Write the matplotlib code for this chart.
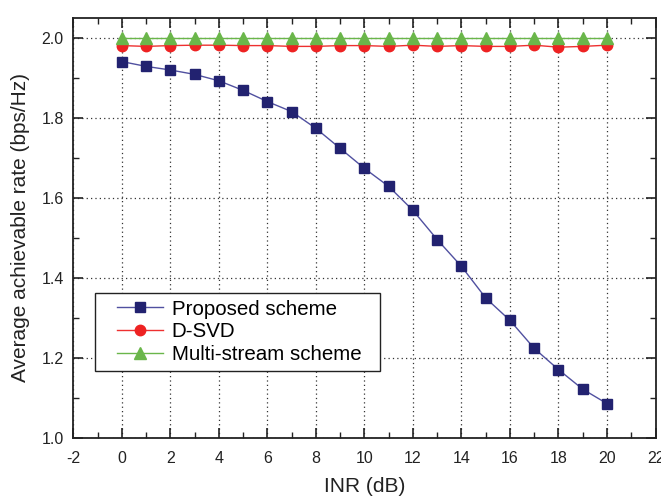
import matplotlib
matplotlib.use("Agg")
import matplotlib.pyplot as plt
from matplotlib.ticker import MultipleLocator, FormatStrFormatter
from matplotlib.lines import Line2D
from matplotlib.legend_handler import HandlerLine2D

plt.rcParams['font.family'] = ['Liberation Sans', 'DejaVu Sans']
plt.rcParams['axes.unicode_minus'] = False

inr = list(range(0, 21))
proposed = [1.941, 1.929, 1.920, 1.909, 1.893, 1.869, 1.841, 1.816, 1.774, 1.724, 1.674,
            1.629, 1.569, 1.496, 1.429, 1.350, 1.294, 1.224, 1.171, 1.122, 1.086]
dsvd = [1.981, 1.979, 1.981, 1.982, 1.982, 1.981, 1.981, 1.979, 1.979, 1.981, 1.981,
        1.979, 1.982, 1.979, 1.981, 1.979, 1.979, 1.982, 1.977, 1.979, 1.982]
multi = [2.0] * 21

fig = plt.figure(figsize=(6.61, 4.97), dpi=100)
ax = fig.add_axes([0.111, 0.1187, 0.8807, 0.8451])

ax.plot(inr, proposed, color='#5050a0', lw=1.0, marker='s', ms=7,
        mfc='#222270', mec='#222270', label='Proposed scheme', zorder=3)
ax.plot(inr, dsvd, color='#ee3030', lw=1.0, marker='o', ms=7.5,
        mfc='#ee2222', mec='#ee2222', label='D-SVD', zorder=4)
ax.plot(inr, multi, color='#6ab64a', lw=1.0, marker='^', ms=8,
        mfc='#6ab64a', mec='#6ab64a', label='Multi-stream scheme', zorder=5)

ax.set_xlim(-2, 22)
ax.set_ylim(1.0, 2.05)
ax.xaxis.set_major_locator(MultipleLocator(2))
ax.xaxis.set_minor_locator(MultipleLocator(1))
ax.yaxis.set_major_locator(MultipleLocator(0.2))
ax.yaxis.set_minor_locator(MultipleLocator(0.1))
ax.yaxis.set_major_formatter(FormatStrFormatter('%.1f'))

ax.grid(True, which='major', linestyle=(0, (1, 2.5)), color='#333333', lw=0.9)
ax.tick_params(which='both', direction='in', top=True, right=True, labelsize=11.5, colors='#222222')
ax.tick_params(which='major', length=7, width=1.2)
ax.tick_params(which='minor', length=4, width=1.0)
ax.tick_params(axis='x', which='major', pad=9)
ax.tick_params(axis='y', which='major', pad=7)
for s in ax.spines.values():
    s.set_linewidth(1.3)
    s.set_color('#222222')

ax.set_xlabel('INR (dB)', fontsize=15, color='#222222', labelpad=8)
ax.set_ylabel('Average achievable rate (bps/Hz)', fontsize=15, color='#222222', labelpad=8)

leg = ax.legend(loc='lower left', bbox_to_anchor=(0.037, 0.16, 0.49, 0.19), mode='expand',
                borderaxespad=0,
                fontsize=14.8, fancybox=False, framealpha=1, edgecolor='#222222',
                handlelength=3.0, borderpad=0.33, labelspacing=0.18, handletextpad=0.4,
                handler_map={Line2D: HandlerLine2D(xpad=0.75)})
leg.get_frame().set_linewidth(1.0)

fig.savefig('out.png', dpi=100)
